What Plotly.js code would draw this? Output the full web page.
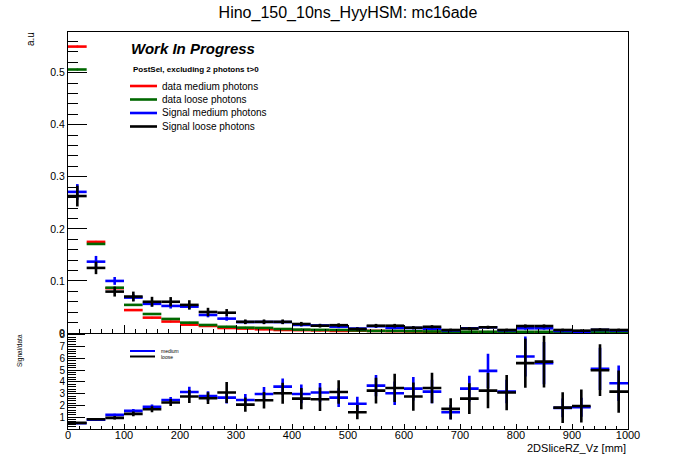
<!DOCTYPE html>
<html>
<head>
<meta charset="utf-8">
<script src="https://cdn.plot.ly/plotly-3.0.1.min.js"></script>
<style>
  body { margin: 0; background: #fff; }
  #chart { width: 698px; height: 476px; }
</style>
</head>
<body>
<div id="chart"></div>
<script>
// binning of the histogram (mm)
var nBins = 30;
var xMin = 0;
var xMax = 1000;

// normalised distributions
var dataMedium = [0.550, 0.175, 0.086, 0.044, 0.0295, 0.022, 0.016, 0.0135, 0.0096, 0.0085,
                  0.0071, 0.0058, 0.0055, 0.005, 0.004, 0.0045, 0.004, 0.0035, 0.003, 0.0019,
                  0.0015, 0.0016, 0.0015, 0.0015, 0.0014, 0.0014, 0.0013, 0.0013, 0.0012, 0.0012];
var dataLoose = [0.506, 0.171, 0.087, 0.054, 0.0365, 0.027, 0.0199, 0.0154, 0.012, 0.0103,
                 0.0098, 0.0077, 0.0065, 0.006, 0.0058, 0.005, 0.004, 0.004, 0.0035, 0.003,
                 0.0025, 0.0025, 0.0024, 0.0024, 0.0023, 0.0023, 0.0022, 0.0022, 0.0021, 0.0021];
var sigMedium = [0.271, 0.137, 0.100, 0.068, 0.056, 0.052, 0.0506, 0.0346, 0.0276, 0.021,
                 0.0212, 0.021, 0.0155, 0.0145, 0.0122, 0.0085, 0.013, 0.0098, 0.0096, 0.0083,
                 0.005, 0.009, 0.011, 0.0052, 0.009, 0.009, 0.004, 0.0018, 0.0058, 0.0047];
var sigMediumErr = [0.015, 0.011, 0.0075, 0.006, 0.005, 0.005, 0.005, 0.0045, 0.004, 0.0035,
                    0.0035, 0.0035, 0.003, 0.003, 0.003, 0.0025, 0.003, 0.0025, 0.0025, 0.0025,
                    0.002, 0.0025, 0.0025, 0.002, 0.0025, 0.0025, 0.0015, 0.001, 0.002, 0.002];
var sigLoose = [0.263, 0.125, 0.0795, 0.070, 0.060, 0.060, 0.054, 0.0404, 0.039, 0.0215,
                0.0215, 0.0215, 0.0173, 0.014, 0.015, 0.0077, 0.014, 0.014, 0.0102, 0.012,
                0.0058, 0.0085, 0.011, 0.0058, 0.0134, 0.0134, 0.0058, 0.0045, 0.0065, 0.0058];
var sigLooseErr = [0.02, 0.012, 0.0095, 0.0095, 0.0095, 0.009, 0.009, 0.008, 0.007, 0.0045,
                   0.0045, 0.0045, 0.004, 0.0035, 0.0035, 0.003, 0.0035, 0.0035, 0.003, 0.003,
                   0.0025, 0.003, 0.003, 0.0025, 0.003, 0.003, 0.0025, 0.002, 0.0025, 0.0025];

// Signal/data ratios
var ratioMedium = [0.49, 0.80, 1.20, 1.54, 1.88, 2.47, 3.15, 2.81, 2.67, 2.47,
                   2.98, 3.60, 2.98, 3.10, 2.67, 2.15, 3.69, 3.04, 3.43, 3.18,
                   1.43, 3.43, 4.94, 3.18, 6.16, 5.60, 1.80, 1.85, 5.11, 3.89];
var ratioMediumErr = [0.04, 0.06, 0.1, 0.15, 0.2, 0.25, 0.45, 0.4, 0.5, 0.5,
                      0.6, 0.7, 0.8, 0.8, 0.8, 0.6, 0.9, 1.0, 1.0, 1.0,
                      0.6, 1.1, 1.45, 1.0, 1.7, 1.8, 0.8, 0.8, 1.8, 1.5];
var ratioLoose = [0.52, 0.83, 0.95, 1.29, 1.68, 2.25, 2.76, 2.62, 3.10, 2.07,
                  2.45, 3.04, 2.58, 2.53, 3.15, 1.43, 3.26, 3.49, 2.76, 3.49,
                  1.71, 2.58, 3.26, 3.10, 5.60, 5.73, 1.82, 1.96, 5.00, 3.18];
var ratioLooseErr = [0.05, 0.06, 0.15, 0.2, 0.25, 0.3, 0.55, 0.5, 0.9, 0.6,
                     0.7, 0.9, 0.9, 1.0, 1.0, 0.6, 1.1, 1.2, 1.2, 1.3,
                     0.9, 1.3, 1.5, 1.5, 2.1, 2.2, 1.3, 1.4, 2.2, 1.8];

var legendLabels = ['data medium photons', 'data loose photons', 'Signal medium photons', 'Signal loose photons'];
var ratioLabels = ['medium', 'loose'];

var RED = '#ff0000', GREEN = '#006800', BLUE = '#0000ff', BLACK = '#000000';

var binW = (xMax - xMin) / nBins;
var centers = [];
for (var i = 0; i < nBins; i++) centers.push(xMin + (i + 0.5) * binW);

function histTrace(y, err, color, xa, ya)
{
    return {
        x: centers, y: y, type: 'scatter', mode: 'markers',
        xaxis: xa, yaxis: ya,
        marker: {size: 2, color: color},
        error_x: {type: 'constant', value: binW / 2, width: 0, thickness: 2.6, color: color},
        error_y: {type: 'data', array: err || [], visible: !!err, width: 0, thickness: 2.6, color: color},
        hoverinfo: 'skip'
    };
}

var traces = [
    histTrace(dataMedium, null, RED, 'x', 'y'),
    histTrace(dataLoose, null, GREEN, 'x', 'y'),
    histTrace(sigMedium, sigMediumErr, BLUE, 'x', 'y'),
    histTrace(sigLoose, sigLooseErr, BLACK, 'x', 'y'),
    histTrace(ratioMedium, ratioMediumErr, BLUE, 'x2', 'y2'),
    histTrace(ratioLoose, ratioLooseErr, BLACK, 'x2', 'y2')
];

// pixel helpers for the hand drawn legends (plot area 68..628 x 32..429)
function px(v) { return (v - 68) / 560; }
function py(v) { return (429 - v) / 397; }

var FONT = 'Liberation Sans, Arial, Helvetica, sans-serif';
var shapes = [];
var annotations = [];
var legendColors = [RED, GREEN, BLUE, BLACK];
var legendY = [86, 99.5, 113, 126.5];
for (var k = 0; k < legendLabels.length; k++)
{
    shapes.push({type: 'line', xref: 'paper', yref: 'paper', x0: px(130), x1: px(157),
        y0: py(legendY[k]), y1: py(legendY[k]), line: {color: legendColors[k], width: 2.6}});
    annotations.push({xref: 'paper', yref: 'paper', x: px(160), y: py(legendY[k]), xanchor: 'left', yanchor: 'middle',
        text: legendLabels[k], showarrow: false, font: {family: FONT, size: 10, color: '#000'}});
}
var ratioColors = [BLUE, BLACK];
var ratioY = [351, 356.5];
for (k = 0; k < ratioLabels.length; k++)
{
    shapes.push({type: 'line', xref: 'paper', yref: 'paper', x0: px(130), x1: px(155),
        y0: py(ratioY[k]), y1: py(ratioY[k]), line: {color: ratioColors[k], width: 2}});
    annotations.push({xref: 'paper', yref: 'paper', x: px(159), y: py(ratioY[k]), xanchor: 'left', yanchor: 'middle',
        text: ratioLabels[k], showarrow: false, font: {family: FONT, size: 5, color: '#000'}});
}

annotations.push(
    {xref: 'paper', yref: 'paper', x: px(129), y: py(48), xanchor: 'left', yanchor: 'middle', showarrow: false,
     text: '<b><i>Work In Progress</i></b>', font: {family: FONT, size: 15, color: '#000'}},
    {xref: 'paper', yref: 'paper', x: px(131), y: py(69), xanchor: 'left', yanchor: 'middle', showarrow: false,
     text: '<b>PostSel, excluding 2 photons t&gt;0</b>', font: {family: FONT, size: 8, color: '#000'}},
    {xref: 'paper', yref: 'paper', x: 1, y: py(448), xanchor: 'right', yanchor: 'middle', showarrow: false,
     text: '2DSliceRZ_Vz [mm]', font: {family: FONT, size: 11, color: '#000'}},
    {xref: 'paper', yref: 'paper', x: px(30), y: py(39), xanchor: 'center', yanchor: 'middle', showarrow: false,
     textangle: -90, text: 'a.u', font: {family: FONT, size: 10, color: '#000'}},
    {xref: 'paper', yref: 'paper', x: px(20), y: py(351), xanchor: 'center', yanchor: 'middle', showarrow: false,
     textangle: -90, text: 'Signal/data', font: {family: FONT, size: 6.5, color: '#000'}}
);

var axisCommon = {
    showline: true, mirror: true, linecolor: '#000', linewidth: 1,
    showgrid: false, zeroline: false, ticks: 'inside', tickcolor: '#000', tickwidth: 1,
    tickfont: {family: FONT, size: 11, color: '#000'}
};

var layout = {
    width: 698, height: 476,
    margin: {l: 68, r: 70, t: 32, b: 47},
    paper_bgcolor: '#fff', plot_bgcolor: '#fff',
    showlegend: false,
    font: {family: FONT, color: '#000'},
    title: {text: 'Hino_150_10ns_HyyHSM: mc16ade', x: 0.5, xref: 'paper', y: 0.975, yanchor: 'middle',
            font: {family: FONT, size: 16, color: '#000'}},
    xaxis: Object.assign({}, axisCommon, {
        anchor: 'y', domain: [0, 1], range: [xMin, xMax], showticklabels: false,
        tick0: 0, dtick: 100, ticklen: 8,
        minor: {dtick: 20, ticklen: 4, ticks: 'inside', tickcolor: '#000'}
    }),
    yaxis: Object.assign({}, axisCommon, {
        anchor: 'x', domain: [0.2418, 1], range: [0, 0.578],
        tick0: 0, dtick: 0.1, ticklen: 19,
        tickfont: {family: FONT, size: 10.5, color: '#000'},
        minor: {dtick: 0.02, ticklen: 10, ticks: 'inside', tickcolor: '#000'}
    }),
    xaxis2: Object.assign({}, axisCommon, {
        anchor: 'y2', domain: [0, 1], range: [xMin, xMax],
        tick0: 0, dtick: 100, ticklen: 5, ticklabelstandoff: -4,
        minor: {dtick: 20, ticklen: 3, ticks: 'inside', tickcolor: '#000'}
    }),
    yaxis2: Object.assign({}, axisCommon, {
        anchor: 'x2', domain: [0, 0.24], range: [0, 8.1],
        tickvals: [1, 2, 3, 4, 5, 6, 7, 8], ticklen: 17,
        tickfont: {family: FONT, size: 10, color: '#000'},
        minor: {dtick: 0.2, ticklen: 8, ticks: 'inside', tickcolor: '#000'}
    }),
    shapes: shapes,
    annotations: annotations
};

Plotly.newPlot('chart', traces, layout, {displayModeBar: false, staticPlot: true});
</script>
</body>
</html>
